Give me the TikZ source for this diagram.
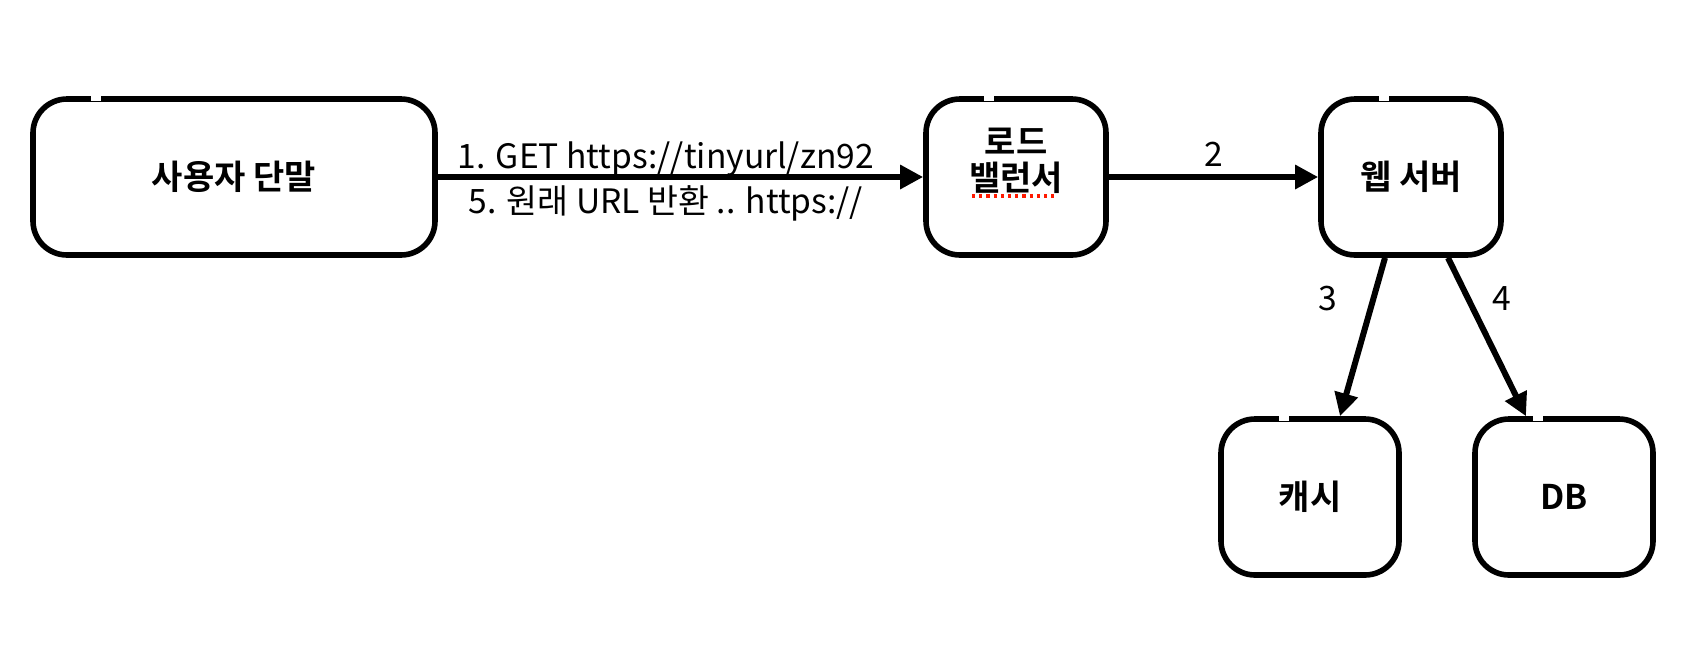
\documentclass[tikz,border=0pt]{standalone}
\usepackage{fontspec}
\setmainfont{Noto Sans CJK KR}
\newfontfamily\krbold{Noto Sans CJK KR Bold}
\usetikzlibrary{arrows.meta, calc}
\tikzset{%
    box/.style={rectangle, draw, line width=2.8pt, rounded corners=17pt, fill=white,
        align=center, font=\krbold\fontsize{17}{18}\selectfont, inner sep=0pt},
    pria/.style={line width = 3pt, -{Triangle[length=11.5pt, width=11.5pt]}},
    lbl/.style={font=\fontsize{16.8}{18}\selectfont, inner sep=1pt},
}

\begin{document}
\begin{tikzpicture}[x=0.5pt, y=-0.5pt]
    \useasboundingbox (0,0) rectangle (1694,644);
    \node[box, minimum width=201pt, minimum height=78pt] (user) at (234,177) {사용자 단말};
    \node[box, minimum width=90pt, minimum height=78pt] (lb) at (1016,177) {로드\\밸런서\\~};
    \node[box, minimum width=90pt, minimum height=78pt] (web) at (1411,177) {웹 서버};
    \node[box, minimum width=89pt, minimum height=78pt] (cache) at (1310,497) {캐시};
    \node[box, minimum width=89pt, minimum height=78pt] (db) at (1564,497) {DB};
    % sketchy gap near the top left corner
    \foreach \n in {user, lb, web, cache, db}
        \fill [white] ($(\n.north west)+(61,-5)$) rectangle ++(10,10);
    % spell check mark
    \draw [red!80!orange, dotted, line width=1.6pt] ($(lb.center)+(-44,19)$) -- ($(lb.center)+(40,19)$);
    \draw [pria] (user.east) -- (lb.west)
        node [lbl, pos=0.47, above=-2pt] {1. GET https://tinyurl/zn92}
        node [lbl, pos=0.47, below=2pt] {5. 원래 URL 반환 .. https://};
    \draw [pria] (lb.east) -- (web.west) node [lbl, midway, above=3pt] {2};
    \draw [pria] (web.south) ++(-26,0) coordinate (w3) (w3) -- ($(cache.north)+(30,0)$) coordinate (c3);
    \draw [pria] (web.south) ++(37,0) coordinate (w4) (w4) -- ($(db.north)+(-38,0)$) coordinate (d4);
    \node [lbl] (n3) at (1328,299) {3};
    \node [lbl] (n4) at (1502,299) {4};
\end{tikzpicture}
\end{document}
